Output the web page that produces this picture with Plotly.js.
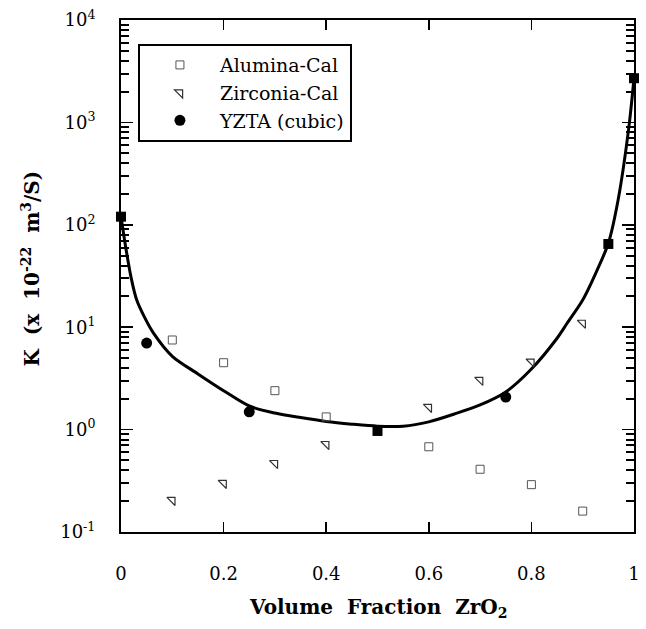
<!DOCTYPE html>
<html>
<head>
<meta charset="utf-8">
<script src="https://cdn.plot.ly/plotly-3.0.1.min.js"></script>
<style>html,body{margin:0;padding:0;background:#fff;}#chart{width:646px;height:629px;}</style>
</head>
<body>
<div id="chart"></div>
<script>
// Alumina-Cal
const aluminaX = [0.1, 0.2, 0.3, 0.4, 0.6, 0.7, 0.8, 0.9];
const aluminaK = [7.5, 4.5, 2.4, 1.33, 0.68, 0.41, 0.29, 0.16];
// Zirconia-Cal
const zirconiaX = [0.1, 0.2, 0.3, 0.4, 0.6, 0.7, 0.8, 0.9];
const zirconiaK = [0.205, 0.30, 0.47, 0.72, 1.66, 3.05, 4.6, 11.0];
// YZTA (cubic) measured points
const yztaCircleX = [0.05, 0.25, 0.75];
const yztaCircleK = [7.0, 1.49, 2.08];
const yztaSquareX = [0, 0.5, 0.95, 1.0];
const yztaSquareK = [120, 0.97, 65, 2700];
// fitted curve
const curveX = [0, 0.01, 0.02, 0.0305, 0.0455, 0.063, 0.1, 0.15, 0.2, 0.25, 0.3, 0.35, 0.4, 0.45, 0.5, 0.55, 0.6, 0.65, 0.7, 0.75, 0.8, 0.85, 0.87, 0.9, 0.934, 0.95, 0.969, 0.99, 1.0];
const curveK = [120, 57, 30, 18.5, 12.6, 8.8, 5.2, 3.5, 2.4, 1.7, 1.45, 1.31, 1.2, 1.13, 1.08, 1.08, 1.19, 1.42, 1.74, 2.33, 3.9, 7.8, 11, 18.4, 42, 66, 175, 900, 2700];
// ticks
const xTickVals = [0, 0.2, 0.4, 0.6, 0.8, 1];
const xTickText = ["0", "0.2", "0.4", "0.6", "0.8", "1"];
const yTickVals = [0.1, 1, 10, 100, 1000, 10000];
const yTickText = ["10<sup>-1</sup>", "10<sup>0</sup>", "10<sup>1</sup>", "10<sup>2</sup>", "10<sup>3</sup>", "10<sup>4</sup>"];
const yMinorDigits = [2, 3, 4, 5, 6, 7, 8, 9];
const yMinorVals = [];
yTickVals.slice(0, -1).forEach(d => yMinorDigits.forEach(m => yMinorVals.push(d * m)));

const serif = "DejaVu Serif, serif";
const yRange = [-1, 4];

const traces = [
  {x: curveX, y: curveK, mode: 'lines', line: {color: 'black', width: 3, shape: 'spline', smoothing: 0.8}, showlegend: false, hoverinfo: 'skip'},
  {x: aluminaX, y: aluminaK, mode: 'markers', name: 'Alumina-Cal', legendgroup: 'a',
   marker: {symbol: 'square-open', size: 8, color: '#555', line: {width: 1, color: '#555'}}},
  {x: zirconiaX, y: zirconiaK, mode: 'markers', name: 'Zirconia-Cal', legendgroup: 'z',
   marker: {symbol: 'triangle-ne-open', size: 9, color: '#333', line: {width: 1.2, color: '#333'}}},
  {x: yztaCircleX, y: yztaCircleK, mode: 'markers', name: 'YZTA (cubic)', legendgroup: 'y',
   marker: {symbol: 'circle', size: 11, color: 'black'}},
  // squares drawn on the overlaying axis (identical log range) so that axis carries the minor ticks
  {x: yztaSquareX, y: yztaSquareK, yaxis: 'y2', mode: 'markers', name: 'YZTA (cubic)', legendgroup: 'y', showlegend: false,
   marker: {symbol: 'square', size: 10, color: 'black'}, cliponaxis: false}
];

const layout = {
  width: 646, height: 629,
  margin: {l: 121, r: 12, t: 20, b: 97},
  paper_bgcolor: 'white', plot_bgcolor: 'white',
  showlegend: true,
  legend: {
    x: 0.033, y: 0.953, xanchor: 'left', yanchor: 'top',
    bgcolor: 'white', bordercolor: 'black', borderwidth: 2,
    font: {family: serif, size: 19, color: 'black'},
    tracegroupgap: 0, itemwidth: 70
  },
  xaxis: {
    range: [0, 1], tickvals: xTickVals, ticktext: xTickText,
    ticks: 'inside', ticklen: 10, tickwidth: 1.5, tickcolor: 'black',
    showline: true, linewidth: 2, linecolor: 'black', mirror: 'ticks',
    showgrid: false, zeroline: false,
    tickfont: {family: serif, size: 18, color: 'black'},
    ticklabelstandoff: 24
  },
  yaxis: {
    type: 'log', range: yRange, tickvals: yTickVals, ticktext: yTickText,
    ticks: 'inside', ticklen: 12, tickwidth: 1.5, tickcolor: 'black',
    showline: true, linewidth: 2, linecolor: 'black', mirror: 'ticks',
    showgrid: false, zeroline: false,
    tickfont: {family: serif, size: 18, color: 'black'},
    ticklabelstandoff: 20
  },
  yaxis2: {
    type: 'log', range: yRange, overlaying: 'y', anchor: 'x', side: 'left',
    tickmode: 'array', tickvals: yMinorVals, showticklabels: false,
    ticks: 'inside', ticklen: 8, tickwidth: 2, tickcolor: 'black',
    showline: true, linewidth: 2, linecolor: 'black', mirror: 'ticks',
    showgrid: false, zeroline: false
  },
  annotations: [
    {xref: 'paper', yref: 'paper', x: 0.5, y: -0.148, xanchor: 'center', yanchor: 'middle', showarrow: false,
     text: '<b>Volume&nbsp;&nbsp;Fraction&nbsp;&nbsp;ZrO<sub>2</sub></b>', font: {family: serif, size: 20, color: 'black'}},
    {xref: 'paper', yref: 'paper', x: -0.176, y: 0.514, xanchor: 'center', yanchor: 'middle', showarrow: false, textangle: -90,
     text: '<b>K&nbsp;&nbsp;(x&nbsp;&nbsp;10<sup>-22</sup>&nbsp;&nbsp;m<sup>3</sup>/S)</b>', font: {family: serif, size: 20, color: 'black'}}
  ]
};

Plotly.newPlot('chart', traces, layout, {displayModeBar: false, staticPlot: true});
</script>
</body>
</html>
